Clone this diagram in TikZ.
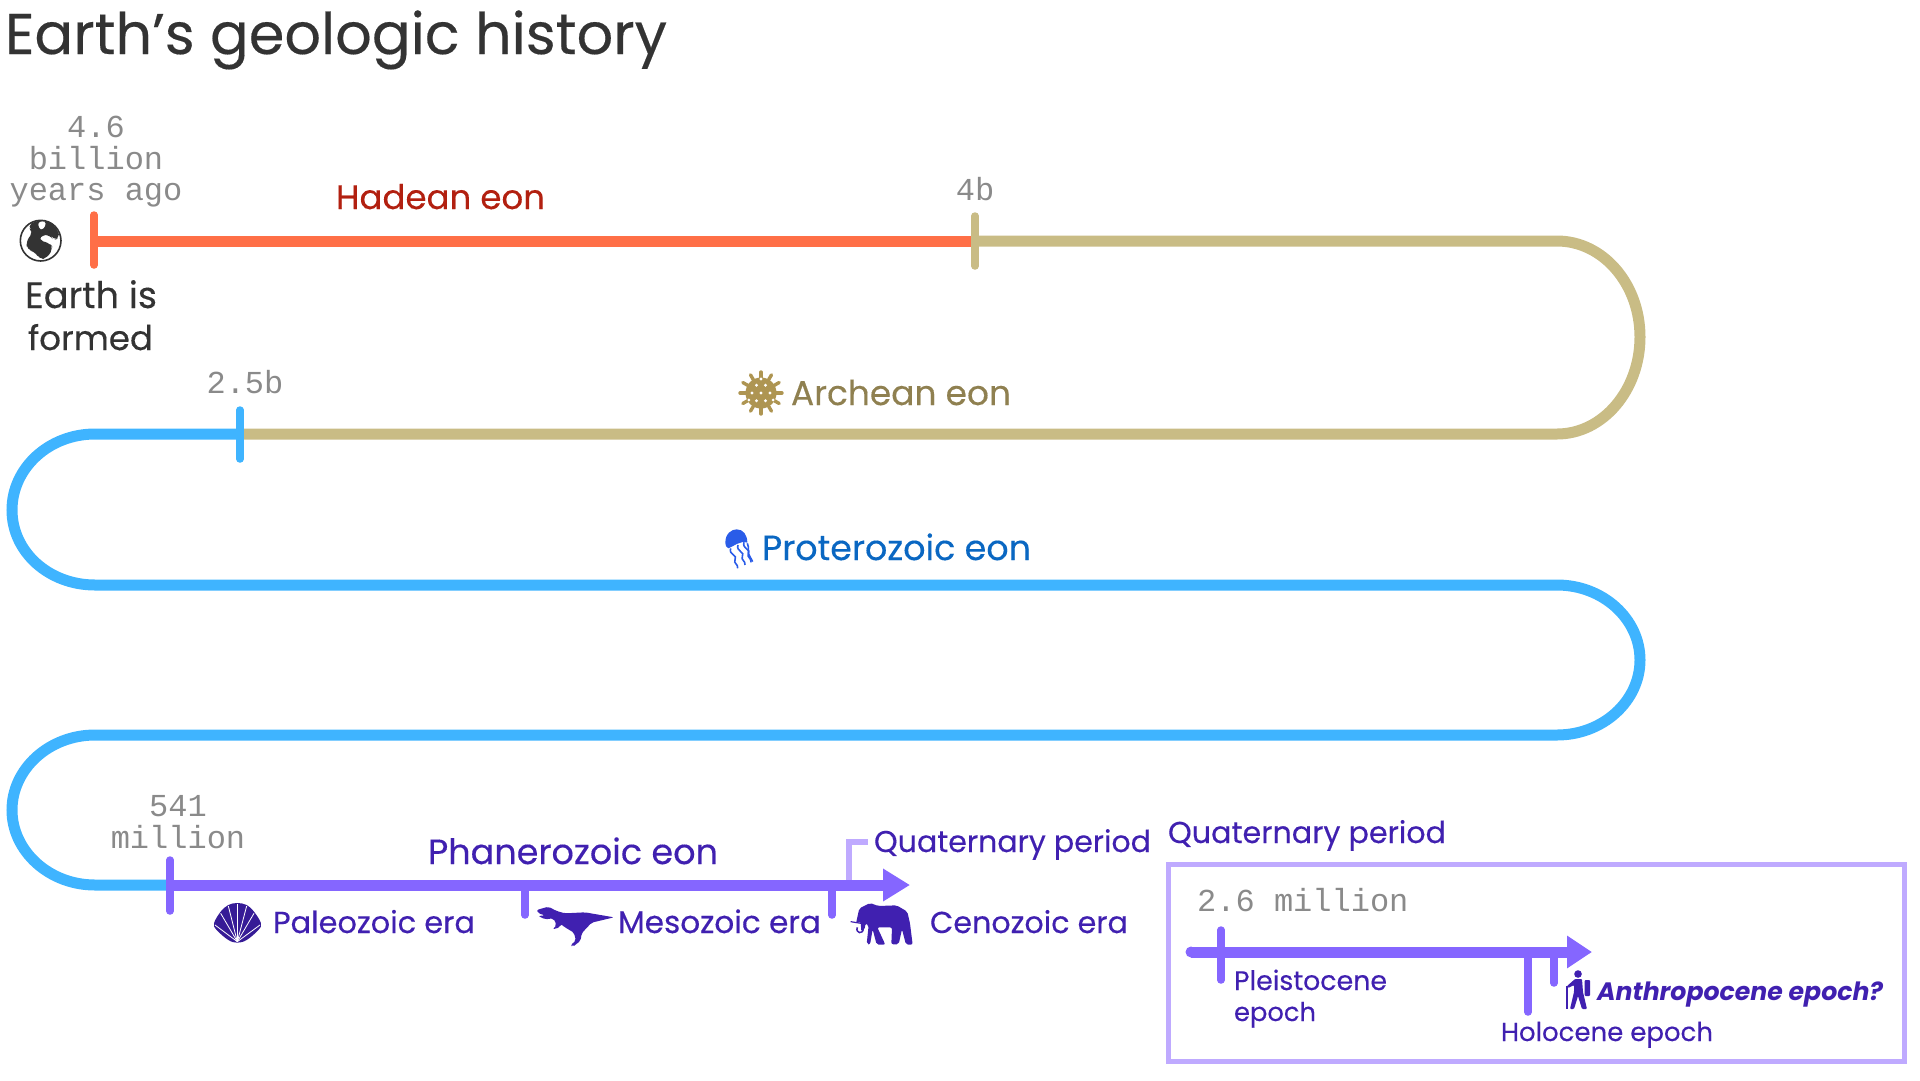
\documentclass[tikz,border=0pt]{standalone}
\usepackage{fontspec}
\usepackage{graphicx}
\usetikzlibrary{arrows.meta}
\setmainfont{Poppins}[FakeBold=0.3]
\newfontfamily\monof{Liberation Mono}
\newfontfamily\anthf{Poppins}[BoldItalicFont={* Bold Italic}]
\definecolor{cOrange}{HTML}{FF6F47}
\definecolor{cTan}{HTML}{C9BC85}
\definecolor{cBlue}{HTML}{3FB4FF}
\definecolor{cPurple}{HTML}{8566FF}
\definecolor{cLight}{HTML}{BFAAFF}
\definecolor{cInk}{HTML}{333333}
\definecolor{cGray}{HTML}{8A8A8A}
\definecolor{cRed}{HTML}{B22010}
\definecolor{cGold}{HTML}{8F8050}
\definecolor{cVirus}{HTML}{AE9552}
\definecolor{cProt}{HTML}{0A67C2}
\definecolor{cJelly}{HTML}{2A5CE8}
\definecolor{cVio}{HTML}{4020B0}
\newcommand{\fitw}[3]{\resizebox{#1pt}{!}{\fontsize{#2}{#2}\selectfont #3}}
\tikzset{
  x=1pt,y=-1pt,
  track/.style={line width=11pt},
  tickmark/.style={line width=7.5pt,line cap=round},
  lab/.style={anchor=base west,inner sep=0pt,outer sep=0pt},
  mono/.style={anchor=base,inner sep=0pt,font=\monof\fontsize{32}{32}\selectfont,text=cGray},
  zoomA/.style={shift={(#1)},x=.3333pt,y=-.3333pt},
}
\begin{document}
\begin{tikzpicture}
\useasboundingbox (0,0) rectangle (1920,1080);
% track way-points
\coordinate (a0) at (94,241);
\coordinate (a1) at (975,241);
\coordinate (a2) at (1557,241);
\coordinate (a3) at (1640,337);
\coordinate (b0) at (1557,434);
\coordinate (b1) at (240,434);
\coordinate (b2) at (95,434);
\coordinate (b3) at (12,510);
\coordinate (c0) at (95,585);
\coordinate (c1) at (1557,585);
\coordinate (c2) at (1640,660);
\coordinate (d0) at (1557,735);
\coordinate (d1) at (95,735);
\coordinate (d2) at (12,810);
\coordinate (e0) at (95,885);
\coordinate (e1) at (170,885);
\coordinate (e2) at (525,885);
\coordinate (e3) at (832,885);
\coordinate (e4) at (849,885);
\coordinate (e5) at (910,885);
\coordinate (qc) at (849,842);
\coordinate (qe) at (868,842);
% tracks
\draw[track,cOrange] (a0) -- (a1);
\draw[track,cTan] (a1) -- (a2) .. controls +(46,0) and +(0,-53) .. (a3) .. controls +(0,53) and +(46,0) .. (b0) -- (b1);
\draw[track,cBlue] (b1) -- (b2) .. controls +(-46,0) and +(0,-42) .. (b3) .. controls +(0,42) and +(-46,0) .. (c0) -- (c1) .. controls +(46,0) and +(0,-41) .. (c2) .. controls +(0,41) and +(46,0) .. (d0) -- (d1) .. controls +(-46,0) and +(0,-41) .. (d2) .. controls +(0,41) and +(-46,0) .. (e0) -- (e1);
\draw[line width=6pt,cLight] (e4) -- (qc) -- (qe);
\draw[track,cPurple,-{Triangle[length=27pt,width=31pt]}] (e1) -- (e5);
% ticks
\coordinate (t1a) at (94,215); \coordinate (t1b) at (94,265);
\coordinate (t2a) at (975,216); \coordinate (t2b) at (975,266);
\coordinate (t3a) at (240,410); \coordinate (t3b) at (240,459);
\coordinate (t4a) at (170,860); \coordinate (t4b) at (170,911);
\coordinate (t5b) at (525,915);
\coordinate (t6b) at (832,915);
\draw[tickmark,cOrange] (t1a) -- (t1b);
\draw[tickmark,cTan] (t2a) -- (t2b);
\draw[tickmark,cBlue] (t3a) -- (t3b);
\draw[tickmark,cPurple] (t4a) -- (t4b);
\draw[tickmark,cPurple] (e2) -- (t5b);
\draw[tickmark,cPurple] (e3) -- (t6b);
% title and labels
\node[lab,text=cInk] (title) at (5,54) {\fitw{662}{58}{Earth’s geologic history}};
\node[mono] (m1) at (96,137) {4.6};
\node[mono] (m2) at (96,169) {billion};
\node[mono] (m3) at (96,200) {years ago};
\node[mono] (m4) at (975,200) {4b};
\node[mono] (m5) at (245,393) {2.5b};
\node[mono] (m6) at (178,816) {541};
\node[mono] (m7) at (178,848) {million};
\node[lab,text=cInk] (earth1) at (25,308) {\fitw{132}{37}{Earth is}};
\node[lab,text=cInk] (earth2) at (28,350) {\fitw{125}{37}{formed}};
\node[lab,text=cRed] (hadean) at (336,209) {\fitw{209}{37}{Hadean eon}};
\node[lab,text=cGold] (archean) at (791,405) {\fitw{220}{37}{Archean eon}};
\node[lab,text=cProt] (prot) at (762,560) {\fitw{269}{37}{Proterozoic eon}};
\node[lab,text=cVio] (phan) at (428,864) {\fitw{290}{37}{Phanerozoic eon}};
\node[lab,text=cVio] (pal) at (273,933) {\fitw{202}{33}{Paleozoic era}};
\node[lab,text=cVio] (mes) at (618,933) {\fitw{203}{33}{Mesozoic era}};
\node[lab,text=cVio] (cen) at (930,933) {\fitw{198}{33}{Cenozoic era}};
\node[lab,text=cVio] (q1) at (874,852) {\fitw{277}{33}{Quaternary period}};
\node[lab,text=cVio] (q2) at (1168,843) {\fitw{278}{33}{Quaternary period}};
% inset
\node[draw=cLight,line width=5pt,minimum width=736pt,minimum height=197pt,inner sep=0pt,outer sep=0pt,anchor=north west] (box) at (1168,864) {};
\node[anchor=base west,inner sep=0pt,font=\monof\fontsize{32}{32}\selectfont,text=cGray] (m8) at (1197,911) {2.6 million};
\coordinate (f0) at (1191,952);
\coordinate (f1) at (1592,952);
\coordinate (g1a) at (1221,930); \coordinate (g1b) at (1221,980);
\coordinate (g2a) at (1528,952); \coordinate (g2b) at (1528,1012);
\coordinate (g3a) at (1554,952); \coordinate (g3b) at (1554,983);
\draw[track,cPurple,-{Triangle[length=25pt,width=31pt]}] (f0) -- (f1);
\fill[cPurple] (f0) circle (5.5);
\draw[tickmark,cPurple] (g1a) -- (g1b);
\draw[tickmark,cPurple] (g2a) -- (g2b);
\draw[tickmark,cPurple] (g3a) -- (g3b);
\node[lab,text=cVio] (pl1) at (1234,990) {\fitw{153}{30}{Pleistocene}};
\node[lab,text=cVio] (pl2) at (1234,1021) {\fitw{82}{30}{epoch}};
\node[lab,text=cVio] (hol) at (1501,1041) {\fitw{212}{30}{Holocene epoch}};
\node[lab,text=cVio] (anth) at (1597,1000) {\fitw{286}{30}{\anthf\bfseries\itshape Anthropocene epoch?}};
% globe
\begin{scope}[zoomA={0,100}]
  \fill[white] (122,422) circle (62);
  \draw[cInk,line width=1.6pt] (122,422) circle (61);
  \fill[cInk,rounded corners=5pt] (82,380) -- (105,362) -- (150,365) -- (177,395) -- (178,415) -- (160,420) -- (150,405) -- (125,405) -- (115,420) -- (150,430) -- (160,445) -- (140,475) -- (118,478) -- (105,455) -- (82,450) -- (78,425) -- (100,395) -- cycle;
  \fill[white,rounded corners=3pt] (112,368) -- (135,362) -- (138,378) -- (122,392) -- cycle;
\end{scope}
% virus
\begin{scope}[shift={(761,393)}]
  \foreach \a in {0,30,...,330} {
    \draw[cVirus,line width=3.4pt,line cap=round] (0,0) -- (\a:21);
  }
  \fill[cVirus] (0,0) circle (15.5);
  \foreach \a/\r in {0/9,60/9,120/9,180/9,240/9,300/9,30/14,150/14,270/14,0/0} {
    \fill[white] (\a:\r) circle (1.6);
  }
\end{scope}
% jellyfish
\begin{scope}[zoomA={700,360}]
  \fill[cJelly] (76,548) .. controls (76,520) and (95,508) .. (110,508) .. controls (130,508) and (142,525) .. (142,548) .. controls (120,540) and (100,560) .. (85,565) .. controls (78,562) and (76,555) .. (76,548) -- cycle;
  \foreach \dx/\dy in {0/0,22/-10,40/-18} {
    \draw[cJelly,line width=1.6pt,shift={(\dx,\dy)}] (92,565) .. controls (85,585) and (115,585) .. (105,600) .. controls (100,610) and (115,612) .. (113,625);
  }
  \draw[cJelly,line width=1.6pt] (142,550) .. controls (150,565) and (140,580) .. (150,590) -- (158,605);
\end{scope}
% shell
\begin{scope}[zoomA={190,810}]
  \fill[cVio!85!black] plot[smooth cycle,tension=.6] coordinates {(142,398) (115,390) (80,360) (72,340) (92,305) (115,285) (142,279) (170,285) (192,305) (213,340) (205,360) (170,390)};
  \foreach \x/\y in {92/310,115/288,142/282,170/288,192/310,75/345,210/345} {
    \draw[white,line width=.8pt] (142,395) -- (\x,\y);
  }
\end{scope}
% dinosaur
\begin{scope}[zoomA={190,810}]
  \fill[cVio,rounded corners=2pt] (1040,300) -- (1075,290) -- (1100,303) -- (1125,310) -- (1185,307) -- (1272,322) -- (1205,338) -- (1175,370) -- (1172,392) -- (1148,411) -- (1142,405) -- (1158,392) -- (1152,368) -- (1125,352) -- (1112,342) -- (1110,352) -- (1088,358) -- (1100,345) -- (1090,325) -- (1065,328) -- (1045,318) -- (1065,316) -- (1045,310) -- cycle;
\end{scope}
% elephant
\begin{scope}[zoomA={820,810}]
  \fill[cVio,rounded corners=2pt] (108,340) -- (118,295) -- (150,279) -- (175,288) -- (230,286) -- (262,305) -- (270,340) -- (278,404) -- (258,404) -- (246,358) -- (236,403) -- (214,403) -- (216,352) -- (172,352) -- (196,404) -- (170,404) -- (158,358) -- (150,404) -- (140,402) -- (146,345) -- (137,340) -- (133,360) -- (124,365) -- (122,335) -- cycle;
  \draw[cVio,line width=1.2pt] (123,340) -- (92,335);
  \draw[cVio,line width=1.5pt] (130,355) .. controls (130,375) and (105,370) .. (112,352);
\end{scope}
% hiker
\begin{scope}[shift={(1565,970)}]
  \fill[cVio] (13,4) circle (3.8);
  \fill[cVio,rounded corners=1pt] (10,9) -- (17,9) -- (18,22) -- (22,39) -- (17,39) -- (13,26) -- (9,39) -- (5,39) -- (9,22) -- (9,15) -- (3,18) -- (2,16) -- cycle;
  \fill[cVio,rounded corners=1pt] (19.5,10) rectangle (25,26);
  \draw[cVio,line width=1.2pt] (2,16) -- (2,39);
\end{scope}
\end{tikzpicture}
\end{document}
